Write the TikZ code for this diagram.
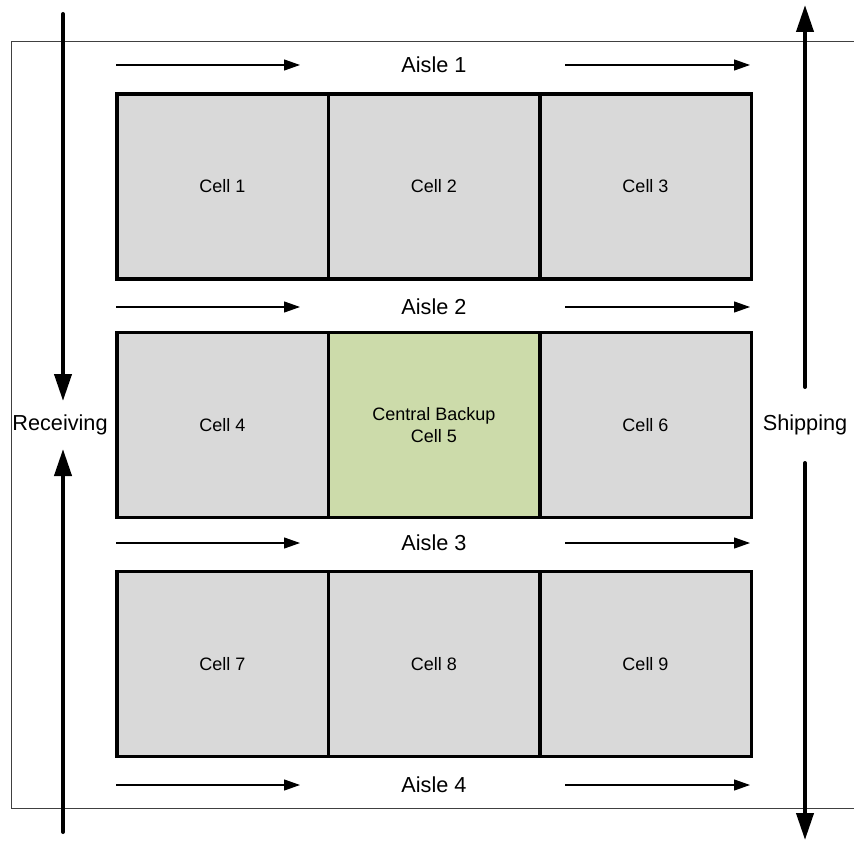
\documentclass[tikz,border=0pt]{standalone}
\usepackage{fontspec}
\setmainfont{Liberation Sans}
\usetikzlibrary{arrows.meta}
\definecolor{cellgray}{HTML}{D9D9D9}
\definecolor{cellgreen}{HTML}{CCDBAA}
\begin{document}
\begin{tikzpicture}[x=1pt,y=-1pt,
  cellbox/.style={draw=black, line width=3.5pt, fill=cellgray,
    minimum width=211.5pt, minimum height=185pt, inner sep=0pt,
    font=\fontsize{18}{22}\selectfont, align=center},
  backup/.style={cellbox, fill=cellgreen},
  label/.style={inner sep=0pt, font=\fontsize{21.7}{26}\selectfont},
  flow/.style={line width=1.2pt, -{Triangle[length=16pt,width=11pt]}},
  bigflow/.style={line width=4pt, line cap=round, -{Triangle[length=27pt,width=17pt]}}]
\clip (0,0) rectangle (854,842);
% floor outline
\draw[line width=1pt, black!75] (11,42) rectangle (870,808);

% cells
\foreach \n/\x/\y in {1/222.5/186.5, 2/434/186.5, 3/645.5/186.5,
                      4/222.5/425, 6/645.5/425,
                      7/222.5/664, 8/434/664, 9/645.5/664}
  \node[cellbox] (c\n) at (\x,\y) {Cell \n};
\node[backup] (c5) at (434,425) {Central Backup\\Cell 5};

% aisles with their flow arrows
\foreach \k/\y in {1/65, 2/307, 3/543, 4/785} {
  \node[label] (a\k) at (434,\y) {Aisle \k};
  \coordinate (a\k l0) at (116,\y);
  \coordinate (a\k l1) at (300,\y);
  \coordinate (a\k r0) at (565,\y);
  \coordinate (a\k r1) at (750,\y);
  \draw[flow] (a\k l0) -- (a\k l1);
  \draw[flow] (a\k r0) -- (a\k r1);
}

% receiving side
\node[label] (recv) at (60,425) {Receiving};
\coordinate (rtop) at (63,14);
\coordinate (rtip) at (63,401);
\coordinate (rbot) at (63,832);
\coordinate (rtip2) at (63,449);
\draw[bigflow] (rtop) -- (rtip);
\draw[bigflow] (rbot) -- (rtip2);

% shipping side
\node[label] (ship) at (805,425) {Shipping};
\coordinate (send1) at (805,387);
\coordinate (stop) at (805,5);
\coordinate (send2) at (805,463);
\coordinate (sbot) at (805,840);
\draw[bigflow] (send1) -- (stop);
\draw[bigflow] (send2) -- (sbot);
\end{tikzpicture}
\end{document}
